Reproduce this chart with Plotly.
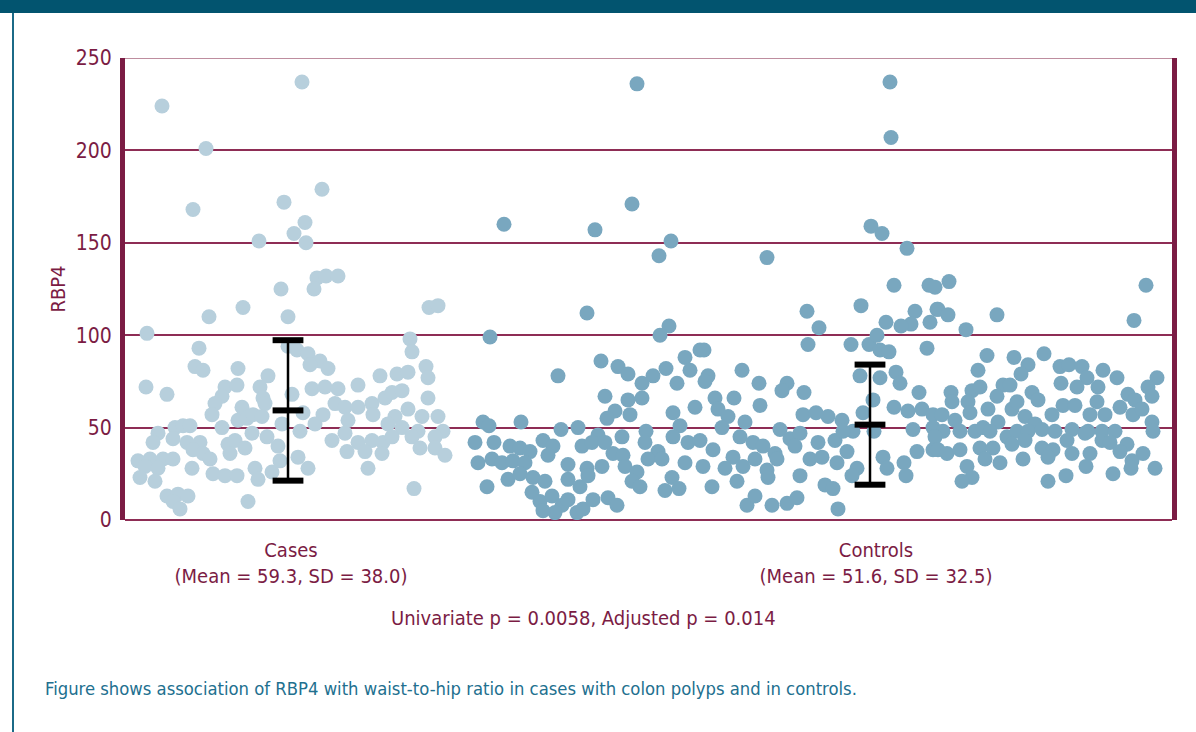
import plotly.graph_objects as go

# Colours
MAROON = "#7B1C44"
GRID = "#8E2D55"
TOP_GRID = "#A8677F"
TEAL_BAR = "#02546F"
TEAL_TEXT = "#22708F"
CASES_COLOR = "#B7CFDC"
CONTROLS_COLOR = "#79A7BF"
FONT = "Liberation Sans Narrow, DejaVu Sans Condensed, Arial Narrow, sans-serif"

# Group summary (as printed in the figure)
GROUPS = ["Cases", "Controls"]
MEANS = [59.3, 51.6]
SDS = [38.0, 32.5]
BAR_POS = [163, 745]        # jitter-axis position of the mean/SD bars
LABEL_POS = [166, 751]      # jitter-axis position of the group labels
TICK_TEXT = ["Cases<br>(Mean = 59.3, SD = 38.0)",
             "Controls<br>(Mean = 51.6, SD = 32.5)"]

# Individual RBP4 values with their horizontal jitter position
CASES_X = [37, 177, 81, 68, 159, 197, 180, 169, 181, 134, 192, 201, 213, 189, 156, 118, 84, 163, 304, 313,
           22, 285, 287, 74, 70, 78, 113, 163, 172, 183, 195, 203, 185, 301, 303, 143, 21, 42, 100, 112,
           135, 138, 140, 97, 90, 87, 97, 117, 113, 122, 128, 137, 167, 178, 157, 175, 187, 200, 213, 233,
           255, 272, 283, 303, 198, 190, 210, 220, 233, 247, 260, 267, 277, 248, 270, 283, 297, 313, 223, 263,
           277, 293, 318, 310, 287, 207, 220, 233, 247, 258, 267, 222, 240, 257, 295, 310, 320, 243, 289, 33,
           28, 50, 58, 65, 48, 62, 75, 68, 78, 85, 13, 25, 38, 48, 20, 33, 15, 30, 67, 88,
           100, 112, 103, 110, 105, 120, 127, 142, 130, 133, 147, 153, 155, 173, 183, 42, 53, 63, 48, 55, 123]
CASES_Y = [224, 237, 201, 168, 172, 179, 161, 155, 150, 151, 131, 132, 132, 125, 125, 115, 110, 110, 115, 116,
           101, 98, 91, 93, 83, 81, 82, 94, 92, 90, 86, 82, 84, 83, 77, 78, 72, 68, 72, 73,
           72, 66, 63, 67, 63, 57, 50, 61, 54, 55, 57, 56, 68, 58, 52, 48, 71, 72, 71, 73,
           78, 79, 80, 66, 57, 52, 63, 61, 61, 63, 66, 69, 70, 57, 56, 60, 56, 56, 54, 52,
           50, 48, 48, 45, 45, 43, 47, 42, 43, 42, 45, 37, 37, 36, 39, 39, 35, 28, 17, 47,
           42, 50, 51, 51, 44, 42, 42, 38, 36, 33, 32, 33, 33, 33, 29, 28, 23, 21, 28, 25,
           24, 24, 41, 43, 36, 39, 47, 45, 28, 22, 26, 40, 32, 34, 28, 13, 14, 13, 10, 6, 10]

CONTROLS_X = [512, 379, 470, 507, 546, 534, 365, 462, 433, 544, 535, 476, 493, 503, 517, 528, 541, 552, 560, 565,
              575, 480, 503, 517, 490, 482, 505, 548, 555, 570, 358, 364, 396, 436, 453, 473, 497, 521, 548, 350,
              369, 385, 395, 405, 418, 428, 457, 467, 480, 520, 533, 563, 353, 367, 377, 388, 400, 423, 443, 462,
              477, 488, 498, 500, 512, 523, 537, 547, 560, 362, 383, 395, 408, 420, 443, 455, 463, 507, 515, 540,
              554, 407, 415, 427, 437, 430, 452, 458, 468, 483, 492, 443, 418,
              765, 766, 746, 757, 782, 642, 769, 804, 736, 682, 694, 683, 726, 761, 790, 786, 776, 805, 812, 744,
              752, 755, 764, 802, 579, 617, 583, 634, 580, 662, 657, 679, 609, 590, 593, 635, 735, 755, 771, 775,
              794, 748, 738, 769, 783, 797, 808, 603, 620, 597, 678, 691, 703, 717, 728, 749, 788, 808, 575, 615,
              628, 638, 655, 665, 675, 693, 710, 718, 588, 608, 630, 650, 670, 685, 697, 712, 722, 758, 792, 808,
              578, 600, 618, 642, 652, 732, 762, 779, 587, 612, 643, 675, 700, 708, 727, 781, 622, 630, 647, 662,
              672, 713,
              1021, 1009, 824, 810, 813, 823, 841, 872, 862, 853, 889, 903, 896, 919, 935, 944, 957, 962, 936, 952,
              978, 992, 973, 1032, 1023, 826, 847, 855, 878, 885, 872, 827, 843, 863, 887, 892, 907, 913, 972, 1003,
              1010, 1027, 845, 817, 830, 873, 900, 910, 927, 938, 950, 965, 980, 995, 1008, 1017, 1027, 818, 835, 850,
              858, 865, 882, 892, 903, 917, 930, 947, 963, 977, 990, 1028, 810, 813, 822, 835, 855, 868, 887, 900,
              917, 928, 942, 947, 960, 977, 985, 1002, 860, 875, 898, 923, 965, 995, 1018, 1007, 842, 847, 837, 961,
              1006, 1030, 923, 941, 988]
CONTROLS_Y = [236, 160, 157, 171, 151, 143, 99, 112, 78, 105, 100, 86, 83, 79, 74, 78, 82, 74, 88, 81,
              92, 67, 65, 66, 59, 55, 57, 58, 51, 61, 53, 51, 53, 49, 50, 46, 45, 48, 45, 42,
              42, 40, 39, 37, 43, 40, 40, 42, 42, 42, 37, 42, 31, 33, 31, 32, 31, 35, 30, 28,
              29, 36, 35, 29, 26, 33, 33, 23, 31, 18, 22, 25, 23, 21, 22, 18, 24, 21, 18, 16,
              17, 15, 10, 13, 8, 4, 4, 6, 11, 12, 8, 11, 5,
              237, 207, 159, 155, 147, 142, 127, 127, 116, 113, 104, 95, 95, 107, 113, 106, 105, 107, 114, 95,
              100, 92, 91, 93, 92, 81, 78, 74, 75, 74, 70, 69, 66, 66, 60, 62, 78, 77, 80, 74,
              69, 65, 58, 61, 59, 60, 57, 56, 53, 50, 57, 58, 56, 54, 48, 48, 49, 50, 43, 45,
              42, 40, 49, 44, 47, 42, 43, 48, 38, 34, 33, 36, 40, 33, 34, 31, 37, 34, 37, 38,
              29, 28, 29, 27, 33, 28, 28, 31, 18, 21, 23, 24, 19, 17, 24, 24, 8, 13, 8, 9,
              12, 6,
              127, 108, 129, 126, 114, 111, 103, 111, 89, 81, 88, 84, 79, 90, 83, 84, 83, 77, 74, 72,
              81, 77, 72, 77, 72, 69, 70, 72, 73, 73, 67, 64, 64, 60, 60, 64, 69, 65, 64, 68,
              65, 67, 58, 57, 54, 53, 56, 52, 57, 62, 62, 57, 57, 61, 57, 60, 53, 48, 48, 48,
              50, 48, 45, 48, 48, 49, 48, 49, 48, 48, 48, 48, 45, 38, 36, 38, 39, 39, 41, 43,
              39, 38, 43, 36, 47, 43, 42, 41, 33, 31, 33, 34, 36, 37, 36, 32, 29, 23, 21, 29,
              28, 28, 21, 24, 25]

W, H = 1196, 732
L, R, T, B = 125, 24, 58, 212
PW, PH = W - L - R, H - T - B


def px(x):
    return (x - L) / PW


def py(y):
    return (H - B - y) / PH


fig = go.Figure()
fig.add_trace(go.Scatter(x=CASES_X, y=CASES_Y, mode="markers", name="Cases",
                         marker=dict(size=15, color=CASES_COLOR, line=dict(width=0))))
fig.add_trace(go.Scatter(x=CONTROLS_X, y=CONTROLS_Y, mode="markers", name="Controls",
                         marker=dict(size=15, color=CONTROLS_COLOR, line=dict(width=0))))

# mean +/- SD bars
fig.add_trace(go.Scatter(x=BAR_POS, y=MEANS, mode="markers",
                         error_y=dict(type="data", array=SDS, width=0, thickness=2.5, color="black"),
                         marker=dict(symbol="line-ew", size=22, line=dict(width=6, color="black"))))
cap_x = BAR_POS + BAR_POS
cap_y = [m - s for m, s in zip(MEANS, SDS)] + [m + s for m, s in zip(MEANS, SDS)]
fig.add_trace(go.Scatter(x=cap_x, y=cap_y, mode="markers",
                         marker=dict(symbol="line-ew", size=22, line=dict(width=6, color="black"))))

fig.update_layout(
    width=W, height=H,
    margin=dict(l=L, r=R, t=T, b=B),
    plot_bgcolor="white", paper_bgcolor="white",
    font=dict(family=FONT, color=MAROON, size=20),
    showlegend=False,
    xaxis=dict(range=[0, PW], tickvals=LABEL_POS, ticktext=TICK_TEXT,
               showgrid=False, zeroline=False, showline=False,
               ticks="outside", ticklen=12, tickcolor="rgba(0,0,0,0)",
               tickfont=dict(size=20, color=MAROON)),
    yaxis=dict(range=[0, 250], tickvals=[0, 50, 100, 150, 200, 250],
               showgrid=True, gridcolor=GRID, gridwidth=1.5,
               zeroline=True, zerolinecolor=GRID, zerolinewidth=1.5,
               showline=True, linecolor=MAROON, linewidth=5, mirror=True,
               ticks="outside", ticklen=4, tickcolor="rgba(0,0,0,0)",
               tickfont=dict(size=21, color=MAROON),
               title=dict(text="RBP4", font=dict(size=20, color=MAROON), standoff=6)),
    shapes=[
        dict(type="rect", xref="paper", yref="paper", x0=px(0), x1=px(W), y0=py(13), y1=py(0),
             fillcolor=TEAL_BAR, line=dict(width=0), layer="below"),
        dict(type="line", xref="paper", yref="paper", x0=px(13), x1=px(13), y0=py(13), y1=py(H),
             line=dict(color="#1B6A87", width=2)),
        dict(type="line", xref="paper", yref="y", x0=0, x1=1, y0=250, y1=250,
             line=dict(color=TOP_GRID, width=1.5), layer="below"),
    ],
    annotations=[
        dict(text="Univariate p = 0.0058, Adjusted p = 0.014", xref="paper", yref="paper",
             x=px(583), y=py(618), xanchor="center", yanchor="middle", showarrow=False,
             font=dict(size=20, color=MAROON)),
        dict(text="Figure shows association of RBP4 with waist-to-hip ratio in cases with colon polyps and in controls.",
             xref="paper", yref="paper", x=px(43), y=py(688), xanchor="left", yanchor="middle",
             showarrow=False, font=dict(size=18.3, color=TEAL_TEXT)),
    ],
)

# drop the default page margin so the figure sits at the window's corner
fig.write_html("out.html", config={"displayModeBar": False},
               post_script="document.body.style.margin='0';")
